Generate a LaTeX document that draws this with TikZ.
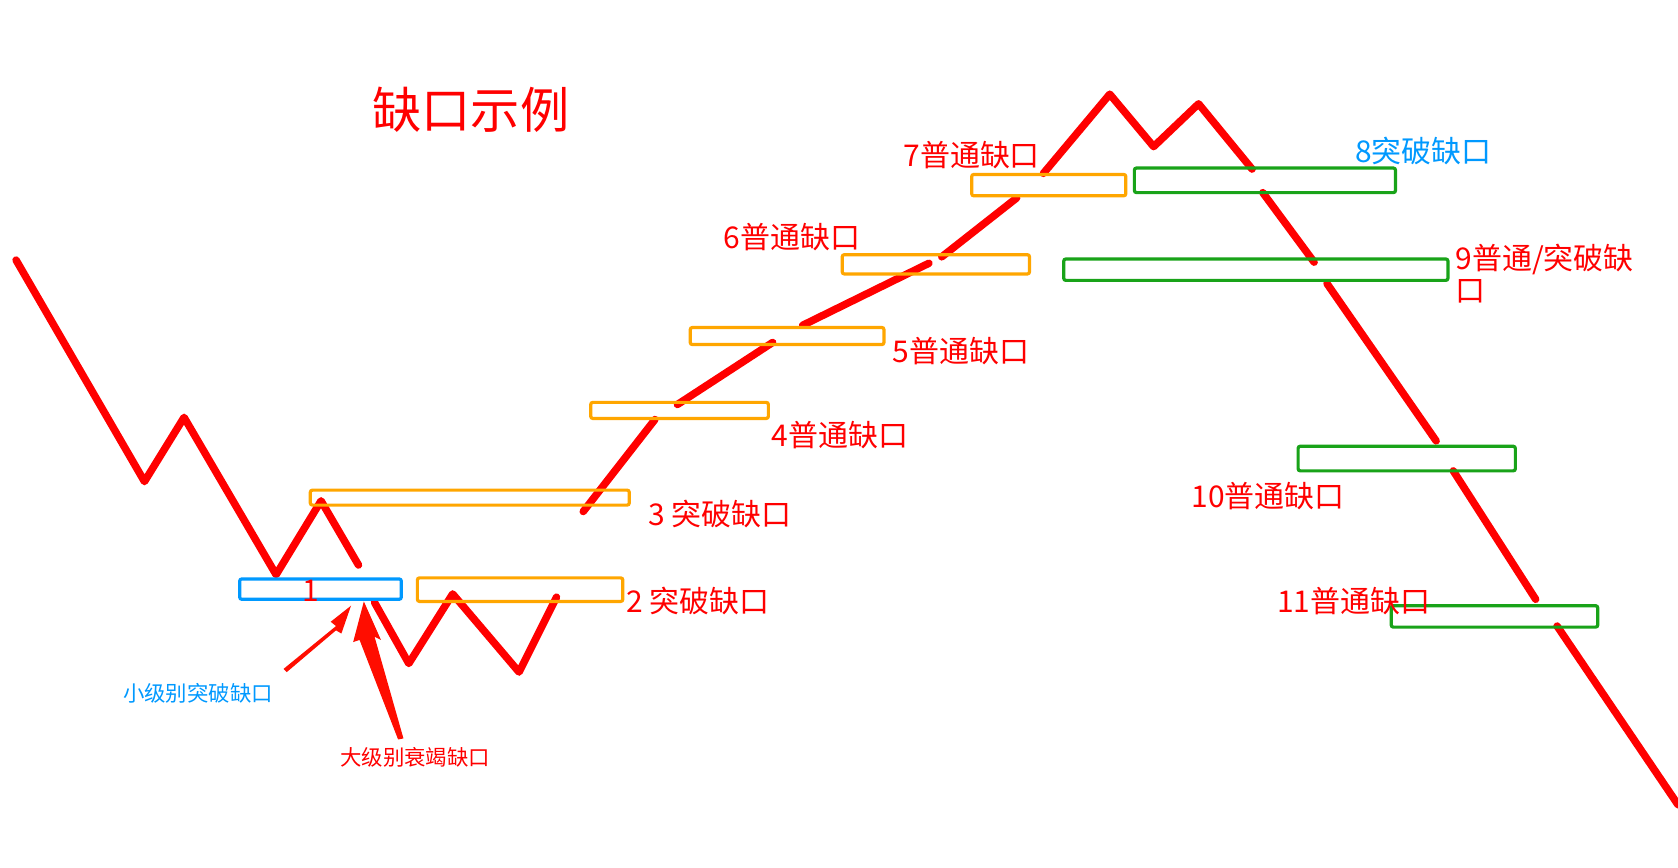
\documentclass[tikz,border=0pt]{standalone}
\usepackage{fontspec}
\setmainfont{Noto Sans CJK SC}
\begin{document}
\begin{tikzpicture}[x=1pt,y=-1pt,
  pl/.style={draw=red,line width=7pt,line cap=round,line join=round},
  ob/.style={draw=orange!70!yellow,line width=3pt,rounded corners=2pt},
  gb/.style={draw=green!60!black!90,line width=3pt,rounded corners=2pt},
  bb/.style={draw=blue!40!cyan,line width=3pt,rounded corners=2pt},
  lab/.style={text=red,font=\fontsize{28}{30}\selectfont,inner sep=0pt},
  blab/.style={text=blue!40!cyan,font=\fontsize{28}{30}\selectfont,inner sep=0pt}]
\useasboundingbox[fill=white] (0,0) rectangle (1568,811);
% price line
\draw[pl] (15,243)--(135,450)--(172,390)--(258,537)--(300,468)--(335,528);
\draw[pl] (350,563)--(382,620)--(423,555)--(485,628)--(520,558);
\draw[pl] (545,478)--(612,392);
\draw[pl] (633,378)--(722,320);
\draw[pl] (750,304)--(868,246);
\draw[pl] (880,240)--(950,185);
\draw[pl] (975,162)--(1037,88)--(1078,137)--(1120,97)--(1170,158);
\draw[pl] (1180,180)--(1228,245);
\draw[pl] (1240,265)--(1342,412);
\draw[pl] (1358,440)--(1435,560);
\draw[pl] (1455,585)--(1568,752);
% boxes
\draw[bb] (224,541) rectangle (375,560);
\draw[ob] (390,540) rectangle (582,562);
\draw[ob] (290,458) rectangle (588,472);
\draw[ob] (552,376) rectangle (718,391);
\draw[ob] (645,306) rectangle (826,322);
\draw[ob] (787,238) rectangle (962,256);
\draw[ob] (908,163) rectangle (1052,183);
\draw[gb] (1060,157) rectangle (1304,180);
\draw[gb] (994,242) rectangle (1353,262);
\draw[gb] (1213,417) rectangle (1416,440);
\draw[gb] (1300,566) rectangle (1493,586);
% labels
\node[lab,font=\fontsize{46}{48}\selectfont] (title) at (440,103) {缺口示例};
\node[lab] (l7) at (908,145) {7普通缺口};
\node[blab] (l8) at (1330,141) {8突破缺口};
\node[lab] (l6) at (740,222) {6普通缺口};
\node[lab,anchor=west,align=left] (l9) at (1360,256) {9普通/突破缺\\口};
\node[lab] (l5) at (898,328) {5普通缺口};
\node[lab] (l4) at (785,407) {4普通缺口};
\node[lab] (l3) at (673,480) {3 突破缺口};
\node[lab] (l2) at (652,562) {2 突破缺口};
\node[lab] (l1) at (290,552) {1};
\node[lab] (l10) at (1185,464) {10普通缺口};
\node[lab] (l11) at (1265,562) {11普通缺口};
\node[blab,font=\fontsize{20}{22}\selectfont] (small) at (185,648) {小级别突破缺口};
\node[lab,font=\fontsize{20}{22}\selectfont] (big) at (388,708) {大级别衰竭缺口};
% arrows
\coordinate (t1) at (328,566);
\coordinate (t2) at (340,562);
\fill[red!90!orange] (265,625)--(314,585)--(309,581)--(t1)--(319,592)--(314,589)--(268,628)--cycle;
\fill[red!90!orange] (377,690)--(350,595)--(356,598)--(t2)--(330,600)--(336,598)--(372,691)--cycle;
\end{tikzpicture}
\end{document}
